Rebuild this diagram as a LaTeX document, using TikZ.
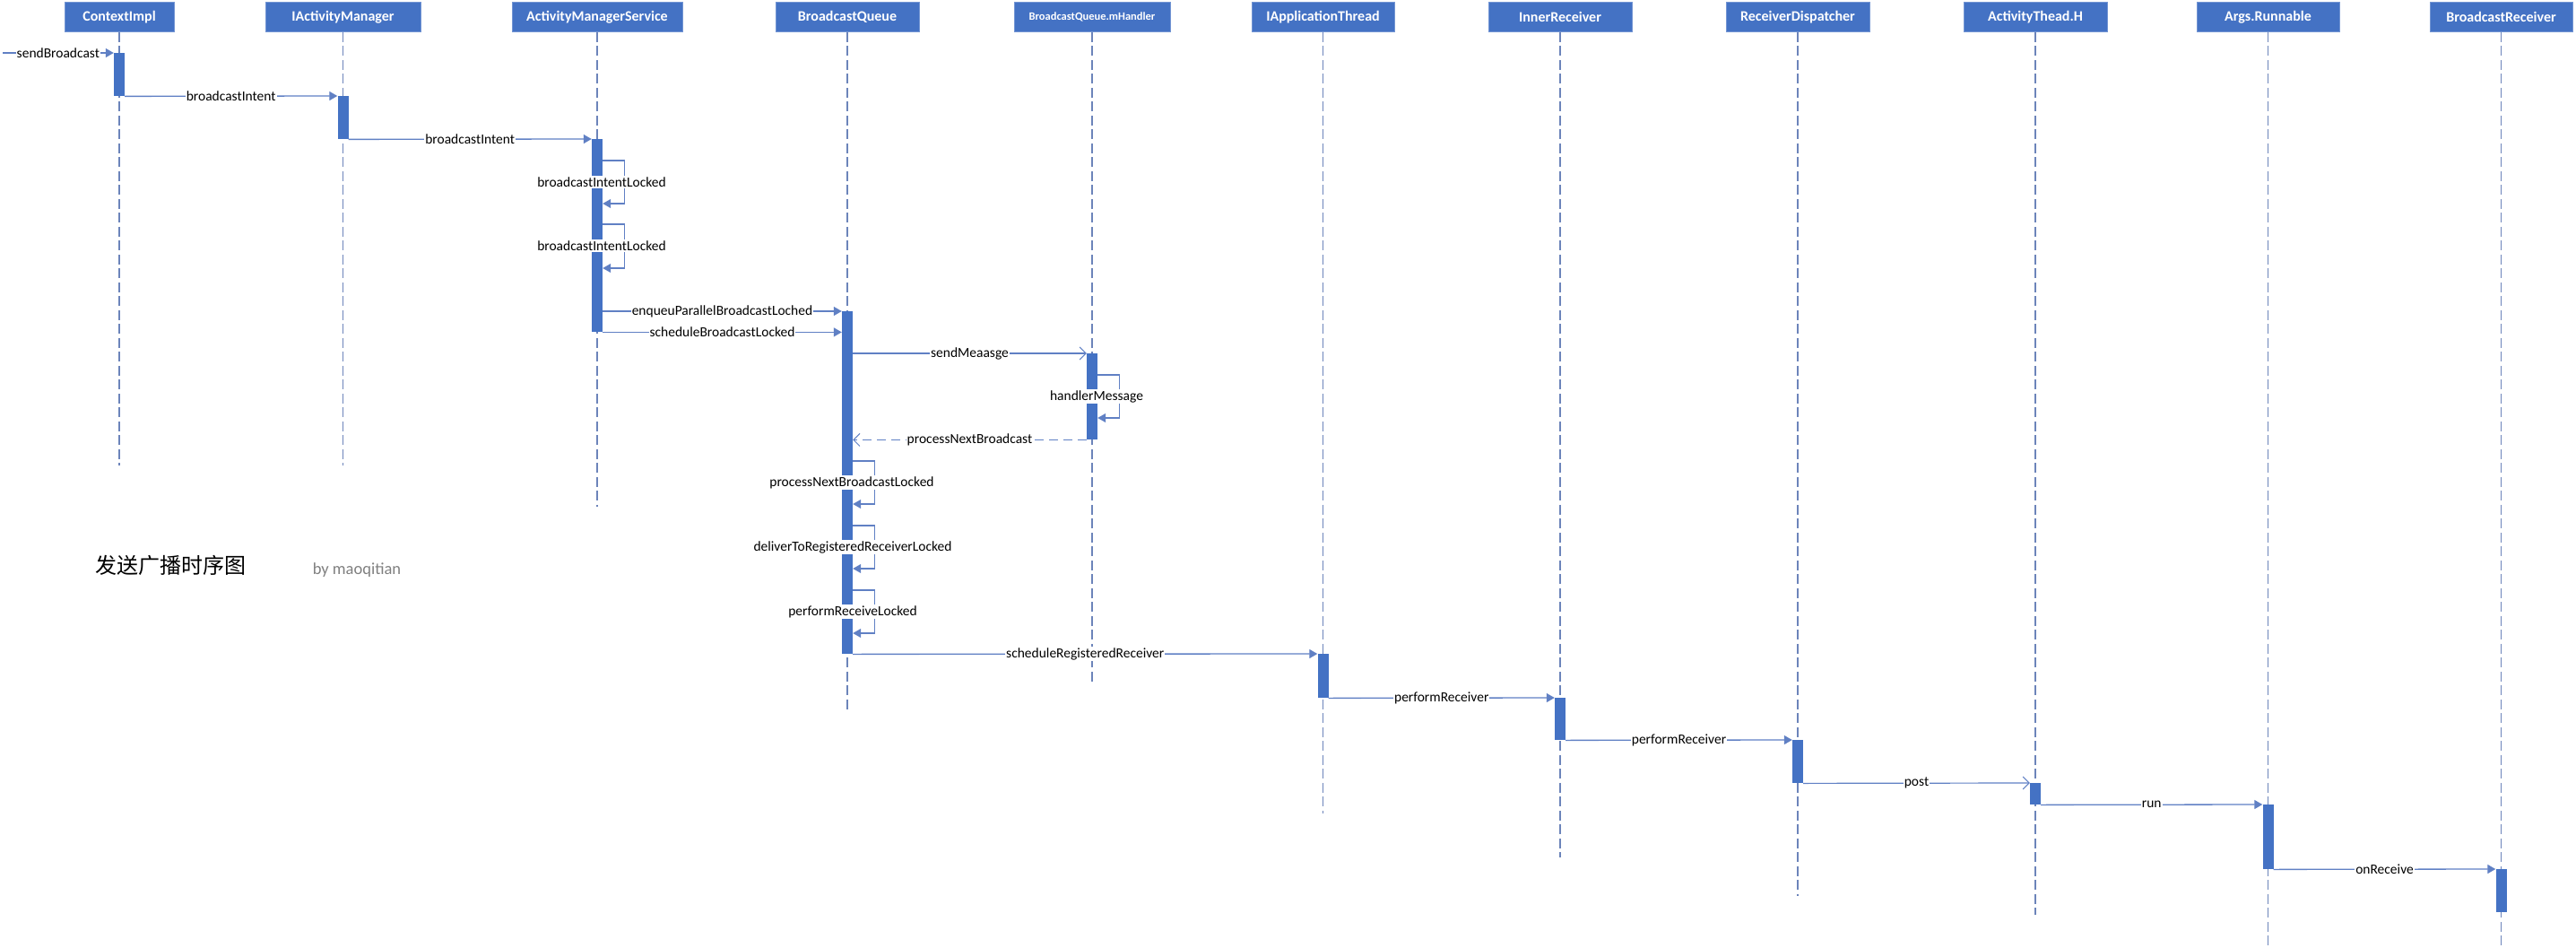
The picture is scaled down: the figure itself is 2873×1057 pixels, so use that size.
\documentclass[tikz,border=0pt]{standalone}
\usepackage{fontspec}
\setmainfont{Carlito}
\newfontfamily\cjk{Noto Sans CJK SC}
\usetikzlibrary{arrows.meta,calc}
\definecolor{ublue}{RGB}{68,114,196}
\definecolor{lblue}{RGB}{96,128,196}
\definecolor{liblue}{RGB}{108,132,186}
\definecolor{bygray}{RGB}{127,127,127}
\tikzset{
  hdr/.style={fill=ublue, draw=ublue!75!white, line width=0.8pt, text=white,
    font=\bfseries\fontsize{16}{18}\selectfont, minimum height=33pt, inner sep=0pt, anchor=north},
  life/.style={draw=liblue, line width=1.6pt, dash pattern=on 11pt off 4.5pt},
  actbar/.style={fill=ublue, draw=none, minimum width=12pt, inner sep=0pt, anchor=north},
  msg/.style={draw=lblue, line width=1.3pt, -{Triangle[length=9pt,width=10pt]}},
  loopmsg/.style={msg, line width=1.1pt},
  omsg/.style={draw=lblue, line width=1.2pt, -{Straight Barb[length=7pt,width=14pt,line width=1pt]}},
  rmsg/.style={omsg, dash pattern=on 10pt off 6pt},
  lbl/.style={fill=white, font=\fontsize{15.5}{17}\selectfont, inner xsep=1pt, inner ysep=1.5pt, text=black},
}
\begin{document}
\begin{tikzpicture}[x=1pt,y=-1pt]
\useasboundingbox (0,0) rectangle (2873,1057);
% headers
\node[hdr, minimum width=122pt] (hC)   at (133,2)    {ContextImpl};
\node[hdr, minimum width=173pt] (hIAM) at (382.5,2)  {IActivityManager};
\node[hdr, minimum width=190pt] (hAMS) at (666,2)    {ActivityManagerService};
\node[hdr, minimum width=160pt] (hBQ)  at (945,2)    {BroadcastQueue};
\node[hdr, minimum width=174pt, font=\bfseries\fontsize{12.5}{14}\selectfont] (hH) at (1218,2) {BroadcastQueue.mHandler};
\node[hdr, minimum width=159pt] (hIAT) at (1475.5,2) {IApplicationThread};
\node[hdr, minimum width=160pt] (hIR)  at (1740,2)   {InnerReceiver};
\node[hdr, minimum width=160pt] (hRD)  at (2005,2)   {ReceiverDispatcher};
\node[hdr, minimum width=160pt] (hATH) at (2270,2)   {ActivityThead.H};
\node[hdr, minimum width=159pt] (hAR)  at (2529.5,2) {Args.Runnable};
\node[hdr, minimum width=159pt] (hBR)  at (2789.5,2) {BroadcastReceiver};
% lifeline ends
\coordinate (eC)   at (133,519);
\coordinate (eIAM) at (382.5,519);
\coordinate (eAMS) at (666,565);
\coordinate (eBQ)  at (945,792);
\coordinate (eH)   at (1218,762);
\coordinate (eIAT) at (1475.5,907);
\coordinate (eIR)  at (1740,956);
\coordinate (eRD)  at (2005,999);
\coordinate (eATH) at (2270,1020);
\coordinate (eAR)  at (2529.5,1057);
\coordinate (eBR)  at (2789.5,1057);
\foreach \n in {C,IAM,AMS,BQ,H,IAT,IR,RD,ATH,AR,BR}
  \draw[life] (h\n.south) -- (e\n);
% activation bars
\node[actbar, minimum height=48pt]  (bC)   at (133,59)    {};
\node[actbar, minimum height=48pt]  (bIAM) at (382.5,107) {};
\node[actbar, minimum height=215pt] (bAMS) at (666,155)   {};
\node[actbar, minimum height=382pt] (bBQ)  at (945,347)   {};
\node[actbar, minimum height=96pt]  (bH)   at (1218,394)  {};
\node[actbar, minimum height=49pt]  (bIAT) at (1475.5,729){};
\node[actbar, minimum height=47pt]  (bIR)  at (1740,778)  {};
\node[actbar, minimum height=48pt]  (bRD)  at (2005,825)  {};
\node[actbar, minimum height=24pt]  (bATH) at (2270,873)  {};
\node[actbar, minimum height=72pt]  (bAR)  at (2529.5,897){};
\node[actbar, minimum height=48pt]  (bBR)  at (2789.5,969){};
% messages
\coordinate (src) at (3,59);
\draw[msg] (src) -- (bC.north west) node[lbl, midway] (m0) {sendBroadcast};
\draw[msg] (bC.south east) -- (bIAM.north west) node[lbl, midway] (m1) {broadcastIntent};
\draw[msg] (bIAM.south east) -- (bAMS.north west) node[lbl, midway] (m2) {broadcastIntent};
\draw[loopmsg] ($(bAMS.north east)+(0,24)$) -- ++(24,0) -- ++(0,48) -- ++(-24,0);
\draw[loopmsg] ($(bAMS.north east)+(0,95)$) -- ++(24,0) -- ++(0,49) -- ++(-24,0);
\draw[msg] (bAMS.east |- bBQ.north west) -- (bBQ.north west) node[lbl, midway] (m3) {enqueuParallelBroadcastLoched};
\draw[msg] (bAMS.south east) -- (bBQ.west |- bAMS.south east) node[lbl, midway] (m4) {scheduleBroadcastLocked};
\draw[omsg] (bBQ.east |- bH.north west) -- (bH.north west) node[lbl, midway] (m5) {sendMeaasge};
\draw[loopmsg] ($(bH.north east)+(0,24)$) -- ++(24,0) -- ++(0,48) -- ++(-24,0);
\draw[rmsg] (bH.south west) -- (bBQ.east |- bH.south west) node[lbl, midway] (m6) {processNextBroadcast};
\draw[loopmsg] ($(bBQ.north east)+(0,167)$) -- ++(24,0) -- ++(0,48) -- ++(-24,0);
\draw[loopmsg] ($(bBQ.north east)+(0,239)$) -- ++(24,0) -- ++(0,48) -- ++(-24,0);
\draw[loopmsg] ($(bBQ.north east)+(0,311)$) -- ++(24,0) -- ++(0,48) -- ++(-24,0);
\draw[msg] (bBQ.south east) -- (bIAT.north west) node[lbl, midway] (m7) {scheduleRegisteredReceiver};
\draw[msg] (bIAT.south east) -- (bIR.north west) node[lbl, midway] (m8) {performReceiver};
\draw[msg] (bIR.south east) -- (bRD.north west) node[lbl, midway] (m9) {performReceiver};
\draw[omsg] (bRD.south east) -- (bATH.north west) node[lbl, midway] (m10) {post};
\draw[msg] (bATH.south east) -- (bAR.north west) node[lbl, midway] (m11) {run};
\draw[msg] (bAR.south east) -- (bBR.north west) node[lbl, midway] (m12) {onReceive};
% self-call labels
\node[lbl] (s1) at (671,203)  {broadcastIntentLocked};
\node[lbl] (s2) at (671,274)  {broadcastIntentLocked};
\node[lbl] (s3) at (1223,442) {handlerMessage};
\node[lbl] (s4) at (950,538)  {processNextBroadcastLocked};
\node[lbl] (s5) at (951,610)  {deliverToRegisteredReceiverLocked};
\node[lbl] (s6) at (951,682)  {performReceiveLocked};
% title
\node[font=\cjk\fontsize{24}{26}\selectfont, anchor=base, inner sep=0pt] (title) at (190,639) {发送广播时序图};
\node[font=\fontsize{18.5}{20}\selectfont, text=bygray, anchor=base, inner sep=0pt] (by) at (398,640) {by maoqitian};
\end{tikzpicture}
\end{document}
